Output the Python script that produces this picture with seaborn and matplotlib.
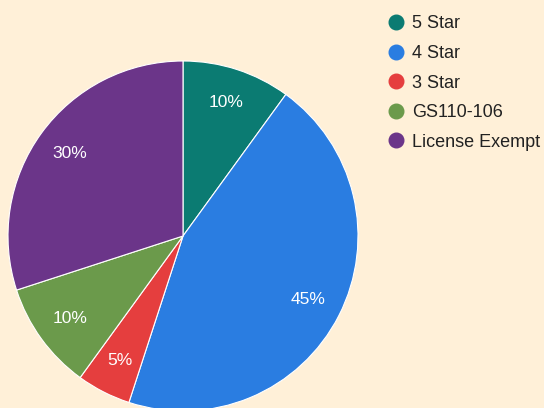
import matplotlib
matplotlib.use("Agg")
import matplotlib.pyplot as plt
from matplotlib.lines import Line2D
import seaborn as sns

# data
categories = ["5 Star", "4 Star", "3 Star", "GS110-106", "License Exempt"]
shares = [10, 45, 5, 10, 30]
colors = ["#0b7b72", "#2a7de1", "#e53e3e", "#6b9a4b", "#6b3589"]
bg = "#fff0d8"

sns.set_style("white")
plt.rcParams['font.family'] = ['Liberation Sans', 'DejaVu Sans']

fig = plt.figure(figsize=(5.44, 4.08), dpi=100, facecolor=bg)
# pie centred at about (183, 236) px with radius ~175 px
ax = fig.add_axes([8 / 544, -3 / 408, 350 / 544, 350 / 408])
ax.set_facecolor(bg)

wedges, texts, autotexts = ax.pie(
    shares, colors=colors, startangle=90, counterclock=False,
    autopct=lambda p: f"{p:.0f}%", pctdistance=0.8,
    wedgeprops=dict(edgecolor="white", linewidth=0.8),
    textprops=dict(color="white", fontsize=12.5),
)
ax.set_xlim(-1, 1)
ax.set_ylim(-1, 1)
ax.set_aspect("equal")
ax.axis("off")

handles = [Line2D([0], [0], marker="o", linestyle="", markersize=10.5,
                  markerfacecolor=c, markeredgecolor=c) for c in colors]
leg = fig.legend(handles, categories, loc="upper left",
                 bbox_to_anchor=(380 / 544, 1 - 8 / 408), frameon=False,
                 fontsize=13, labelspacing=0.70, handletextpad=0.39,
                 handlelength=1.0, borderaxespad=0, borderpad=0.4)
for t in leg.get_texts():
    t.set_color("#222222")

fig.savefig("out.png", dpi=100, facecolor=bg)
